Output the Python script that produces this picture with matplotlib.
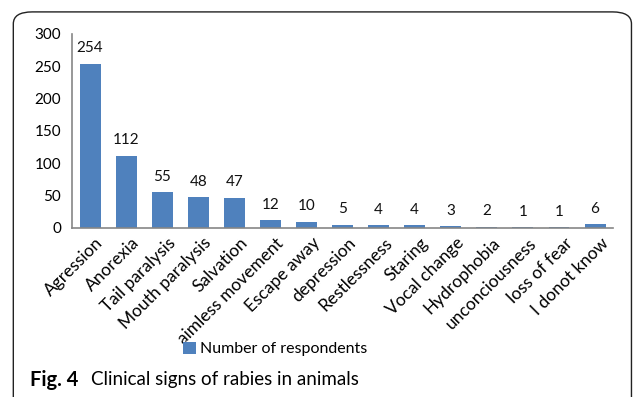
import numpy as np
import matplotlib.pyplot as plt
from matplotlib.patches import FancyBboxPatch

signs = ["Agression", "Anorexia", "Tail paralysis", "Mouth paralysis", "Salvation",
         "aimless movement", "Escape away", "depression", "Restlessness", "Staring",
         "Vocal change", "Hydrophobia", "unconciousness", "loss of fear", "I donot know"]
respondents = [254, 112, 55, 48, 47, 12, 10, 5, 4, 4, 3, 2, 1, 1, 6]

plt.rcParams['font.family'] = ['Lato', 'DejaVu Sans']

fig = plt.figure(figsize=(6.34, 3.97), dpi=100)
ax = fig.add_axes([0.1136, 0.4257, 0.8534, 0.4887])

x = np.arange(len(signs))
bars = ax.bar(x, respondents, width=0.58, color='#4F81BD', label='Number of respondents')
for xi, v in zip(x, respondents):
    ax.annotate(str(v), (xi, v), xytext=(0, 6), textcoords='offset points',
                ha='center', va='bottom', fontsize=11, color='#111111')

ax.set_xlim(-0.5, len(signs) - 0.5)
ax.set_ylim(0, 300)
ax.set_yticks(np.arange(0, 301, 50))
ax.tick_params(axis='y', length=0, labelsize=11, pad=8)
ax.tick_params(axis='x', length=0, pad=5)
ax.set_xticks(x + 0.14)
ax.set_xticklabels(signs, rotation=45, ha='right', rotation_mode='anchor', fontsize=12.5)
for s in ['top', 'right']:
    ax.spines[s].set_visible(False)
for s in ['left', 'bottom']:
    ax.spines[s].set_color('#868686')
    ax.spines[s].set_linewidth(1.2)

fig.legend(handles=[bars], loc='center', bbox_to_anchor=(0.434, 0.121), frameon=False,
           fontsize=11.5, handlelength=0.8, handleheight=0.8, handletextpad=0.3)

fig.text(0.047, 0.043, "Fig. 4", fontsize=14.5, fontweight='bold', va='center')
fig.text(0.1435, 0.043, "Clinical signs of rabies in animals", fontsize=13.5, va='center')

box = FancyBboxPatch((0.021, -0.05), 0.975, 1.02, boxstyle='round,pad=0,rounding_size=0.03',
                     transform=fig.transFigure, fill=False, edgecolor='#222222', linewidth=1.0)
fig.patches.append(box)

plt.savefig('out.png', dpi=100)
